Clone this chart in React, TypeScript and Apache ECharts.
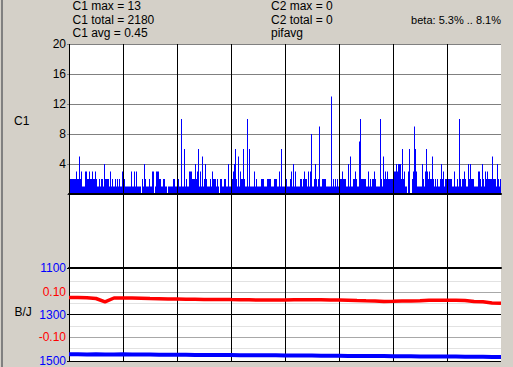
import React, { useEffect, useRef } from 'react';
import * as echarts from 'echarts';

// C1 per-column values (one column per pixel, 8 divisions of 54 columns)
const c1Div0 = [2,2,2,2,2,2,2,3,2,2,5,2,3,1,1,1,3,3,2,2,3,2,2,3,2,2,3,2,1,1,2,1,2,2,1,4,2,2,2,2,1,3,1,2,1,1,2,1,2,1,2,1,1,3];
const c1Div1 = [1,2,1,1,1,1,1,1,3,1,1,3,1,3,1,1,1,1,0,2,1,4,2,1,1,1,2,1,1,3,3,0,1,3,3,3,2,2,1,1,2,2,1,1,0,1,1,1,1,1,2,2,1,1];
const c1Div2 = [2,2,1,1,10,1,1,6,1,2,1,1,3,3,3,2,2,2,4,2,3,6,1,3,1,5,1,2,4,2,1,1,1,2,1,3,2,2,2,1,2,1,0,2,2,1,1,2,2,1,1,4,1,1];
const c1Div3 = [1,2,3,4,6,2,1,5,1,3,2,2,6,2,1,1,10,1,6,1,1,1,1,3,1,2,1,1,1,1,2,2,2,1,1,1,2,2,2,2,1,1,1,2,2,2,1,1,3,1,6,1,1,1];
const c1Div4 = [1,2,1,1,1,2,3,1,4,1,3,1,1,1,1,2,2,1,2,3,2,2,1,3,1,3,8,1,1,2,4,2,1,2,9,1,1,2,2,2,2,1,1,1,1,1,13,1,2,1,2,1,2,1];
const c1Div5 = [1,2,2,3,2,2,2,1,1,4,1,5,1,1,2,2,3,2,1,1,7,10,2,2,2,2,2,1,1,3,1,2,1,2,2,3,2,1,1,1,1,10,2,1,5,2,3,2,3,2,2,2,2,2];
const c1Div6 = [3,3,3,4,3,4,4,4,2,6,2,3,1,1,0,3,6,0,0,2,3,9,6,3,1,1,1,1,1,4,2,1,3,6,3,2,3,2,2,5,2,1,2,1,2,1,1,2,4,2,3,1,2,2];
const c1Div7 = [1,2,2,2,2,1,1,3,1,1,2,1,10,2,1,2,2,3,2,1,1,4,2,4,2,2,2,1,1,1,1,3,3,2,1,4,2,1,3,2,3,2,2,2,2,5,2,2,2,1,4,2,1,2];
const c1Values = [...c1Div0, ...c1Div1, ...c1Div2, ...c1Div3, ...c1Div4, ...c1Div5, ...c1Div6, ...c1Div7];
const c1Categories = c1Values.map((_, i) => String(i));

// B/J series, 49 evenly spaced samples
const redValues = [0.0756,0.0756,0.0742,0.0711,0.0564,0.0733,0.0733,0.0733,0.0724,0.0711,0.0702,0.0689,0.0689,0.068,0.0676,0.0667,0.0667,0.0667,0.0662,0.0658,0.0653,0.0644,0.0644,0.0644,0.0644,0.0653,0.0653,0.0653,0.0653,0.0644,0.0644,0.0636,0.0622,0.0609,0.06,0.0578,0.0587,0.06,0.06,0.0609,0.0631,0.0636,0.0636,0.0636,0.0622,0.0578,0.0564,0.0511,0.0498];
const blueValues = [1471,1471,1472,1471,1472,1472,1471,1472,1472,1472,1473,1473,1473,1473,1474,1474,1474,1474,1474,1475,1475,1475,1475,1475,1476,1476,1476,1476,1477,1477,1477,1478,1478,1478,1479,1479,1480,1480,1480,1481,1481,1481,1481,1481,1482,1482,1482,1483,1483];
const bjCategories = redValues.map((_, i) => String(i));

const infoLeft = ['C1 max = 13', 'C1 total = 2180', 'C1 avg = 0.45'];
const infoMid = ['C2 max = 0', 'C2 total = 0', 'pifavg'];
const betaText = 'beta: 5.3% .. 8.1%';
const divisionCount = 8;

const FONT = '"Liberation Sans", Arial, sans-serif';

export default function App() {
  const ref = useRef<HTMLDivElement>(null);
  useEffect(() => {
    document.body.style.margin = '0';
    if (!ref.current) return;
    const chart = echarts.init(ref.current, undefined, { renderer: 'svg' });
    const vColors: string[] = [];
    for (let i = 0; i <= divisionCount; i++) vColors.push(i === divisionCount ? 'rgba(0,0,0,0)' : '#000000');
    const texts: any[] = [];
    const rowsY = [6, 19.5, 32.5];
    infoLeft.forEach((t, i) => texts.push({ type: 'text', x: 72.5, y: rowsY[i], style: { text: t, fill: '#000', font: `12px ${FONT}`, verticalAlign: 'middle', align: 'left' } }));
    infoMid.forEach((t, i) => texts.push({ type: 'text', x: 271, y: rowsY[i], style: { text: t, fill: '#000', font: `12px ${FONT}`, verticalAlign: 'middle', align: 'left' } }));
    texts.push({ type: 'text', x: 501, y: rowsY[1], style: { text: betaText, fill: '#000', font: `11px ${FONT}`, verticalAlign: 'middle', align: 'right' } });
    texts.push({ type: 'text', x: 14, y: 121, style: { text: 'C1', fill: '#000', font: `12px ${FONT}`, verticalAlign: 'middle', align: 'left' } });
    texts.push({ type: 'text', x: 14.5, y: 312, style: { text: 'B/J', fill: '#000', font: `12px ${FONT}`, verticalAlign: 'middle', align: 'left' } });
    texts.push({ type: 'rect', shape: { x: 1, y: 0, width: 2, height: 367 }, style: { fill: '#808080' } });

    const redSplitColors = ['rgba(0,0,0,0)', '#e2e2e2', '#a8a8a8', '#e2e2e2', 'rgba(0,0,0,0)', '#e2e2e2', '#a8a8a8', '#e2e2e2', 'rgba(0,0,0,0)'];

    chart.setOption({
      animation: false,
      backgroundColor: '#d4d0c8',
      textStyle: { fontFamily: FONT },
      graphic: texts,
      grid: [
        { left: 69, top: 44, width: 432, height: 318, show: true, backgroundColor: '#ffffff', borderWidth: 0 },
        { left: 69, top: 44, width: 432, height: 150 },
        { left: 69, top: 268, width: 432, height: 93 },
        { left: 69, top: 269.5, width: 432, height: 90 },
      ],
      xAxis: [
        { gridIndex: 0, type: 'value', min: 0, max: divisionCount, interval: 1, z: 3,
          axisLine: { show: false }, axisTick: { show: false }, axisLabel: { show: false },
          splitLine: { show: true, lineStyle: { color: vColors, width: 1 } } },
        { gridIndex: 1, type: 'category', data: c1Categories, boundaryGap: true, z: 3,
          axisLine: { show: true, lineStyle: { color: '#000', width: 2 } }, axisTick: { show: false }, axisLabel: { show: false }, splitLine: { show: false } },
        { gridIndex: 2, type: 'category', data: bjCategories, boundaryGap: false, position: 'top', z: 3,
          axisLine: { show: true, lineStyle: { color: '#000', width: 2 } }, axisTick: { show: false }, axisLabel: { show: false }, splitLine: { show: false } },
        { gridIndex: 3, type: 'category', data: bjCategories, boundaryGap: false, show: false },
      ],
      yAxis: [
        { gridIndex: 0, type: 'value', show: false },
        { gridIndex: 1, type: 'value', min: 0, max: 20, interval: 4,
          axisLine: { show: false },
          axisTick: { show: true, length: 2, lineStyle: { color: '#808080' } },
          axisLabel: { margin: 3, color: '#000', fontSize: 12, fontFamily: FONT, formatter: (v: number) => (v === 0 ? '' : String(v)) },
          splitLine: { show: true, lineStyle: { color: '#808080', width: 1 } } },
        { gridIndex: 2, type: 'value', inverse: true, min: 1100, max: 1500, interval: 200,
          axisLine: { show: false },
          axisTick: { show: true, length: 2, lineStyle: { color: '#000' } },
          axisLabel: { margin: 3, color: '#0000ff', fontSize: 12, fontFamily: FONT, formatter: (v: number) => String(v) },
          splitLine: { show: true, lineStyle: { color: '#000', width: 1 } } },
        { gridIndex: 3, type: 'value', min: -0.2, max: 0.2, interval: 0.05,
          axisLine: { show: false }, axisTick: { show: false },
          axisLabel: { margin: 3, color: '#ff0000', fontSize: 12, fontFamily: FONT,
            formatter: (v: number) => (Math.abs(v - 0.1) < 1e-6 ? '0.10' : Math.abs(v + 0.1) < 1e-6 ? '-0.10' : '') },
          splitLine: { show: true, lineStyle: { color: redSplitColors, width: 1 } } },
      ],
      series: [
        { type: 'bar', xAxisIndex: 1, yAxisIndex: 1, data: c1Values, barWidth: '100%', barCategoryGap: '0%', barGap: '0%',
          itemStyle: { color: '#0000ff' }, z: 2, silent: true },
        { type: 'line', xAxisIndex: 2, yAxisIndex: 2, data: blueValues, showSymbol: false, symbol: 'none',
          lineStyle: { color: '#0000ff', width: 4 }, z: 5, silent: true },
        { type: 'line', xAxisIndex: 3, yAxisIndex: 3, data: redValues, showSymbol: false, symbol: 'none',
          lineStyle: { color: '#ff0000', width: 3.5 }, z: 5, silent: true },
      ],
    });
    return () => chart.dispose();
  }, []);
  return <div ref={ref} style={{ position: 'fixed', left: 0, top: 0, width: 513, height: 367 }} />;
}
